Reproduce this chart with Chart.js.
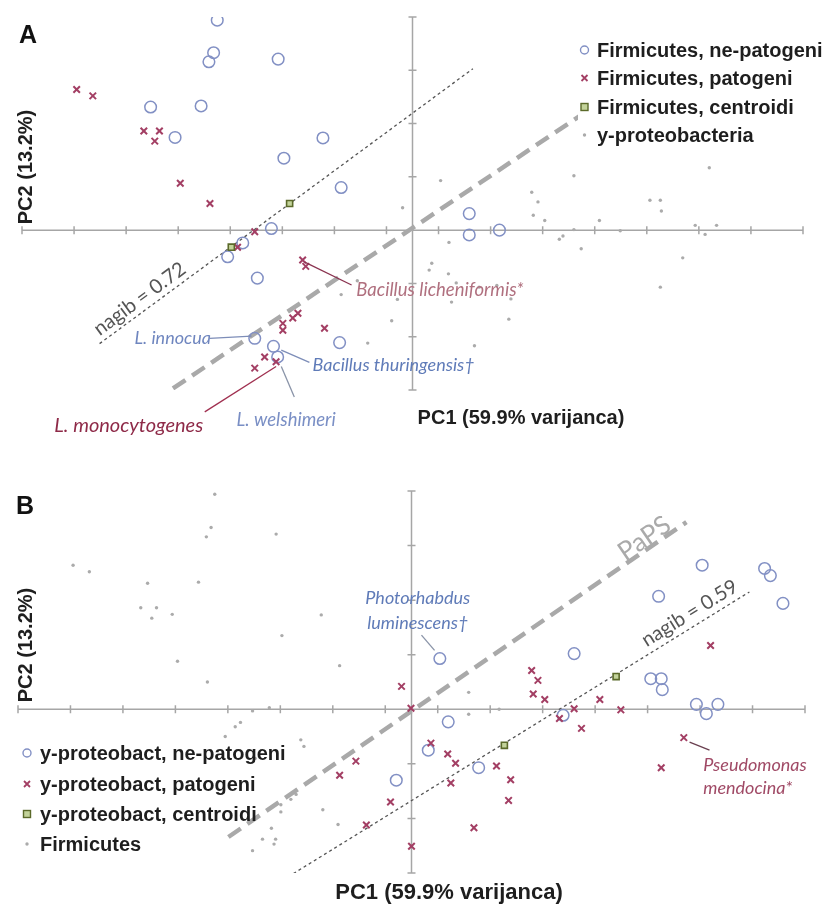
<!DOCTYPE html>
<html><head><meta charset="utf-8">
<script src="https://cdn.jsdelivr.net/npm/chart.js@4"></script>
<style>
html,body{margin:0;padding:0;background:#fff;}
#wrap{position:relative;width:825px;height:911px;overflow:hidden;}
canvas{position:absolute;left:0;}
</style></head><body>
<div id="wrap">
<canvas id="cA" width="825" height="455" style="top:0px"></canvas>
<canvas id="cB" width="825" height="456" style="top:455px"></canvas>
</div>
<script>
// ---- axis ticks (PC units) ----
const xTicks = [-7.5,-6.5,-5.5,-4.5,-3.5,-2.5,-1.5,-0.5,0.5,1.5,2.5,3.5,4.5,5.5,6.5,7.5];
const yTicks = [-3,-2,-1,0,1,2,3,4];

// ---- Firmicutes ----
const firmNonPathX = [-3.75,-3.82,-3.91,-2.58,-5.03,-4.06,-4.56,-1.72,-2.47,-1.37,-2.71,-3.55,-3.26,-2.98,-3.03,-2.67,-2.59,-1.40,1.09,1.09,1.67];
const firmNonPathY = [3.94,3.33,3.16,3.21,2.31,2.33,1.74,1.73,1.35,0.80,0.03,-0.50,-0.24,-0.90,-2.03,-2.18,-2.38,-2.11,0.31,-0.09,0.00];
const firmPathX = [-6.45,-6.14,-5.16,-4.86,-4.95,-4.46,-3.89,-3.03,-3.36,-2.11,-2.05,-2.20,-2.49,-2.49,-2.30,-1.69,-2.84,-3.03,-2.62];
const firmPathY = [2.64,2.52,1.86,1.86,1.67,0.88,0.50,-0.03,-0.32,-0.56,-0.68,-1.56,-1.75,-1.88,-1.65,-1.84,-2.38,-2.59,-2.47];
const firmCentX = [-2.36,-3.48];
const firmCentY = [0.50,-0.32];

// ---- gamma-proteobacteria ----
const gamNonPathX = [5.54,6.73,6.84,7.08,4.71,3.10,0.54,4.56,4.76,4.78,5.43,5.62,5.84,2.89,0.70,0.32,1.28,-0.29];
const gamNonPathY = [2.64,2.58,2.45,1.94,2.07,1.02,0.93,0.56,0.56,0.36,0.09,-0.08,0.09,-0.11,-0.23,-0.75,-1.07,-1.30];
const gamPathX = [5.70,2.29,2.41,2.32,2.54,3.59,3.99,3.10,2.82,3.24,5.19,4.76,0.37,0.69,0.84,0.75,1.62,1.89,1.85,1.19,0.00,-1.06,-1.37,-0.40,-0.86,-0.01,-0.19];
const gamPathY = [1.17,0.71,0.53,0.28,0.18,0.18,-0.01,0.01,-0.17,-0.35,-0.52,-1.07,-0.62,-0.82,-0.99,-1.35,-1.04,-1.29,-1.67,-2.17,-2.51,-0.95,-1.21,-1.70,-2.12,0.02,0.42];
const gamCentX = [3.90,1.77];
const gamCentY = [0.60,-0.66];

// ---- separation lines (end points) ----
const papsAX = [-4.60,3.85], papsAY = [-2.97,2.56];
const slopeAX = [-6.01,1.16], slopeAY = [-2.13,3.03];
const papsBX = [-3.49,5.24], papsBY = [-2.34,3.43];
const slopeBX = [-2.25,6.44], slopeBY = [-3.01,2.15];

// ---- legend texts ----
const legendA = ['Firmicutes, ne-patogeni','Firmicutes, patogeni','Firmicutes, centroidi','y-proteobacteria'];
const legendB = ['y-proteobact, ne-patogeni','y-proteobact, patogeni','y-proteobact, centroidi','Firmicutes'];

function pts(xs, ys){ return xs.map((x,i)=>({x:x, y:ys[i]})); }

const C_CIRCLE = '#8290c4', C_CROSS = '#a33f64', C_SQB = '#5b6a2a', C_SQF = '#c3d39a', C_DOT = '#ababab';

function circleDS(data){ return {data, pointStyle:'circle', pointRadius:5.8, borderColor:C_CIRCLE, borderWidth:1.5, backgroundColor:'rgba(0,0,0,0)', showLine:false, order:1}; }
function crossDS(data){ return {data, pointStyle:'crossRot', pointRadius:4.6, borderColor:C_CROSS, borderWidth:2, backgroundColor:C_CROSS, showLine:false, order:1}; }
function squareDS(data){ return {data, pointStyle:'rect', pointRadius:4.3, borderColor:C_SQB, borderWidth:1.6, backgroundColor:C_SQF, showLine:false, order:0}; }
function dotDS(data){ return {data, pointStyle:'circle', pointRadius:1.7, borderWidth:0, backgroundColor:C_DOT, borderColor:C_DOT, showLine:false, order:3}; }
function thickDS(data){ return {data, showLine:true, pointRadius:0, borderColor:'#a9a9a9', borderWidth:4.5, borderDash:[15,8], order:2, fill:false}; }
function thinDS(data){ return {data, showLine:true, pointRadius:0, borderColor:'#555555', borderWidth:1.3, borderDash:[3,3], order:2, fill:false}; }

function txt(ctx, s, x, y, font, color, align, angle){
  ctx.save(); ctx.font = font; ctx.fillStyle = color; ctx.textAlign = align || 'left'; ctx.textBaseline = 'middle';
  ctx.translate(x, y); if (angle) ctx.rotate(angle); ctx.fillText(s, 0, 0); ctx.restore();
}

function marker(ctx, type, x, y){
  ctx.save();
  if (type === 'circle'){ ctx.strokeStyle = C_CIRCLE; ctx.lineWidth = 1.4; ctx.beginPath(); ctx.arc(x, y, 4, 0, Math.PI*2); ctx.stroke(); }
  else if (type === 'cross'){ ctx.strokeStyle = C_CROSS; ctx.lineWidth = 1.8; ctx.beginPath(); ctx.moveTo(x-3,y-3); ctx.lineTo(x+3,y+3); ctx.moveTo(x+3,y-3); ctx.lineTo(x-3,y+3); ctx.stroke(); }
  else if (type === 'square'){ ctx.fillStyle = C_SQF; ctx.fillRect(x-3.5,y-3.5,7,7); ctx.strokeStyle = C_SQB; ctx.lineWidth = 1.4; ctx.strokeRect(x-3.5,y-3.5,7,7); }
  else { ctx.fillStyle = C_DOT; ctx.beginPath(); ctx.arc(x, y, 1.7, 0, Math.PI*2); ctx.fill(); }
  ctx.restore();
}

// axes through the origin with cross ticks
const axesPlugin = {
  id: 'axesThroughOrigin',
  beforeDatasetsDraw(chart){
    const ctx = chart.ctx, xs = chart.scales.x, ys = chart.scales.y;
    const x0 = xs.getPixelForValue(0), y0 = ys.getPixelForValue(0);
    ctx.save(); ctx.strokeStyle = '#a6a6a6'; ctx.lineWidth = 1.5;
    ctx.beginPath();
    ctx.moveTo(xs.getPixelForValue(xTicks[0]), y0); ctx.lineTo(xs.getPixelForValue(xTicks[xTicks.length-1]), y0);
    ctx.moveTo(x0, ys.getPixelForValue(yTicks[0])); ctx.lineTo(x0, ys.getPixelForValue(yTicks[yTicks.length-1]));
    xTicks.forEach(v => { const p = xs.getPixelForValue(v); ctx.moveTo(p, y0-4); ctx.lineTo(p, y0+4); });
    yTicks.forEach(v => { const p = ys.getPixelForValue(v); ctx.moveTo(x0-4, p); ctx.lineTo(x0+4, p); });
    ctx.stroke(); ctx.restore();
  }
};

function lineAngle(chart, X, Y){
  const xs = chart.scales.x, ys = chart.scales.y;
  return Math.atan2(ys.getPixelForValue(Y[1]) - ys.getPixelForValue(Y[0]), xs.getPixelForValue(X[1]) - xs.getPixelForValue(X[0]));
}

function decorPlugin(cfg){
  return {
    id: 'decor' + cfg.name,
    afterDatasetsDraw(chart){
      const ctx = chart.ctx, xs = chart.scales.x, ys = chart.scales.y;
      const px = v => xs.getPixelForValue(v), py = v => ys.getPixelForValue(v);
      cfg.leaders.forEach(l => {
        ctx.save(); ctx.strokeStyle = l.color; ctx.lineWidth = 1.3; ctx.beginPath();
        ctx.moveTo(px(l.x1), py(l.y1)); ctx.lineTo(px(l.x2), py(l.y2)); ctx.stroke(); ctx.restore();
      });
      cfg.labels.forEach(l => {
        const ang = l.along ? lineAngle(chart, l.along[0], l.along[1]) : 0;
        txt(ctx, l.text, px(l.x), py(l.y), l.font, l.color, l.align, ang);
      });
      const lg = cfg.legend;
      if (lg.bg){ ctx.save(); ctx.fillStyle = '#ffffff'; ctx.fillRect(lg.bg[0], lg.bg[1], lg.bg[2], lg.bg[3]); ctx.restore(); }
      lg.items.forEach((s, i) => {
        marker(ctx, lg.types[i], lg.mx, lg.rows[i]);
        txt(ctx, s, lg.tx, lg.rows[i] + 1, 'bold 20px "Liberation Sans", Arial, sans-serif', '#1e1e1e', 'left');
      });
      cfg.texts.forEach(t => txt(ctx, t.text, t.x, t.y, t.font, t.color, t.align, t.angle));
    }
  };
}

const markerTypes = ['circle','cross','square','dot'];
const labelFont = 'italic 18.5px Lato, "Open Sans", sans-serif';
const titleFont = 'bold 20px "Liberation Sans", Arial, sans-serif';
const letterFont = 'bold 25px "Liberation Sans", Arial, sans-serif';
const BLUE_T = '#5f7bb8', RED_T = '#a04a66';

function makeChart(id, datasets, pad, plugin){
  return new Chart(document.getElementById(id), {
    type: 'scatter',
    data: { datasets },
    options: {
      responsive: false, animation: false, events: [],
      layout: { padding: pad },
      scales: {
        x: { type:'linear', min:-7.5, max:7.5, display:false },
        y: { type:'linear', min:-3, max:4, display:false }
      },
      plugins: { legend:{display:false}, tooltip:{enabled:false} }
    },
    plugins: [axesPlugin, plugin]
  });
}

// ---------- Panel A ----------
makeChart('cA', [
  squareDS(pts(firmCentX, firmCentY)),
  crossDS(pts(firmPathX, firmPathY)),
  circleDS(pts(firmNonPathX, firmNonPathY)),
  dotDS(pts(gamNonPathX.concat(gamPathX), gamNonPathY.concat(gamPathY))),
  thickDS(pts(papsAX, papsAY)),
  thinDS(pts(slopeAX, slopeAY))
], {left:22, right:22, top:17, bottom:65}, decorPlugin({
  name:'A',
  leaders: [
    {x1:-2.07, y1:-0.60, x2:-1.17, y2:-1.03, color:'#8a3350'},
    {x1:-3.90, y1:-2.03, x2:-3.09, y2:-1.99, color:'#7d8db8'},
    {x1:-2.52, y1:-2.25, x2:-1.98, y2:-2.48, color:'#7d8db8'},
    {x1:-2.52, y1:-2.56, x2:-2.27, y2:-3.13, color:'#8a94a8'},
    {x1:-3.99, y1:-3.41, x2:-2.62, y2:-2.56, color:'#a03050'}
  ],
  labels: [
    {text:'nagib = 0.72', x:-5.24, y:-1.29, font:'20px Lato, sans-serif', color:'#555555', align:'center', along:[slopeAX, slopeAY]},
    {text:'Bacillus licheniformis*', x:-1.08, y:-1.13, font:labelFont, color:'#b0707f', align:'left'},
    {text:'L. innocua', x:-5.34, y:-2.03, font:'italic 18px Lato, sans-serif', color:'#6f86bf', align:'left'},
    {text:'Bacillus thuringensis\u2020', x:-1.92, y:-2.53, font:'italic 18px Lato, sans-serif', color:BLUE_T, align:'left'},
    {text:'L. welshimeri', x:-3.38, y:-3.56, font:labelFont, color:'#7a8fc5', align:'left'},
    {text:'L. monocytogenes', x:-6.88, y:-3.66, font:'italic 20px Lato, sans-serif', color:'#8e2a48', align:'left'}
  ],
  legend: { items: legendA, types: markerTypes, mx:584.5, tx:597, rows:[50,78,107,135], bg:[578,36,247,114] },
  texts: [
    {text:'A', x:28, y:36, font:letterFont, color:'#111', align:'center'},
    {text:'PC1 (59.9% varijanca)', x:521, y:418, font:titleFont, color:'#1e1e1e', align:'center'},
    {text:'PC2 (13.2%)', x:26, y:167, font:titleFont, color:'#1e1e1e', align:'center', angle:-Math.PI/2}
  ]
}));

// ---------- Panel B ----------
makeChart('cB', [
  squareDS(pts(gamCentX, gamCentY)),
  crossDS(pts(gamPathX, gamPathY)),
  circleDS(pts(gamNonPathX, gamNonPathY)),
  dotDS(pts(firmNonPathX.concat(firmPathX), firmNonPathY.concat(firmPathY))),
  thickDS(pts(papsBX, papsBY)),
  thinDS(pts(slopeBX, slopeBY))
], {left:18, right:20, top:36, bottom:38}, decorPlugin({
  name:'B',
  leaders: [
    {x1:0.19, y1:1.36, x2:0.44, y2:1.08, color:'#8a94a8'},
    {x1:5.30, y1:-0.60, x2:5.68, y2:-0.75, color:'#6a4050'}
  ],
  labels: [
    {text:'PaPS', x:4.44, y:3.13, font:'26px Lato, sans-serif', color:'#aaaaaa', align:'center', along:[papsBX, papsBY]},
    {text:'nagib = 0.59', x:5.30, y:1.76, font:'20px Lato, sans-serif', color:'#555555', align:'center', along:[slopeBX, slopeBY]},
    {text:'Photorhabdus', x:0.12, y:2.03, font:'italic 18px Lato, sans-serif', color:BLUE_T, align:'center'},
    {text:'luminescens\u2020', x:0.12, y:1.58, font:'italic 18px Lato, sans-serif', color:BLUE_T, align:'center'},
    {text:'Pseudomonas', x:5.56, y:-1.03, font:'italic 18px Lato, sans-serif', color:RED_T, align:'left'},
    {text:'mendocina*', x:5.56, y:-1.45, font:'italic 18px Lato, sans-serif', color:RED_T, align:'left'}
  ],
  legend: { items: legendB, types: markerTypes, mx:27, tx:40, rows:[298,329,359,389], bg:null },
  texts: [
    {text:'B', x:25, y:52, font:letterFont, color:'#111', align:'center'},
    {text:'PC1 (59.9% varijanca)', x:449, y:438, font:'bold 22px "Liberation Sans", Arial, sans-serif', color:'#1e1e1e', align:'center'},
    {text:'PC2 (13.2%)', x:26, y:190, font:titleFont, color:'#1e1e1e', align:'center', angle:-Math.PI/2}
  ]
}));
</script>
</body></html>
